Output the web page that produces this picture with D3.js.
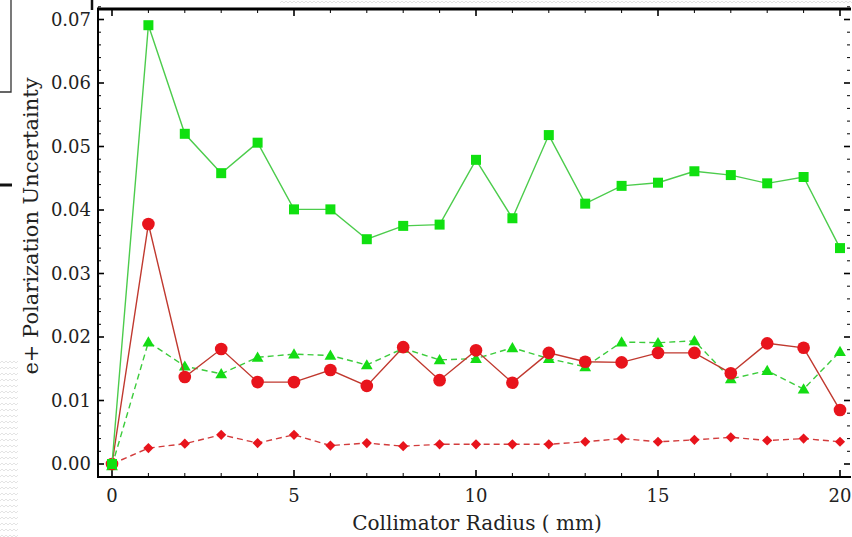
<!DOCTYPE html>
<html>
<head>
<meta charset="utf-8">
<script src="https://cdn.jsdelivr.net/npm/d3@7"></script>
<style>
  body { margin: 0; background: #fff; }
  svg { display: block; }
  text { font-family: "DejaVu Serif", "Liberation Serif", serif; fill: #222; }
</style>
</head>
<body>
<script>
// collimator radius (mm)
const radius = d3.range(0, 21);
// series
const greenSquares = [0.000, 0.0691, 0.0520, 0.0458, 0.0506, 0.0401, 0.0401, 0.0354, 0.0375, 0.0377,
  0.0479, 0.0387, 0.0518, 0.0410, 0.0438, 0.0443, 0.0461, 0.0455, 0.0442, 0.0452, 0.0340];
const redCircles = [0.000, 0.0378, 0.0137, 0.0181, 0.0129, 0.0129, 0.0148, 0.0123, 0.0184, 0.0132,
  0.0179, 0.0128, 0.0175, 0.0161, 0.0160, 0.0175, 0.0175, 0.0143, 0.0190, 0.0183, 0.0085];
const greenTriangles = [-0.0003, 0.0192, 0.0154, 0.0142, 0.0168, 0.0173, 0.0171, 0.0156, 0.0182, 0.0164,
  0.0166, 0.0183, 0.0166, 0.0153, 0.0192, 0.0191, 0.0194, 0.0134, 0.0147, 0.0118, 0.0177];
const redDiamonds = [0.000, 0.0025, 0.0032, 0.0046, 0.0033, 0.0046, 0.0029, 0.0033, 0.0028, 0.0031,
  0.0031, 0.0031, 0.0031, 0.0035, 0.0040, 0.0035, 0.0038, 0.0042, 0.0037, 0.0040, 0.0035];
const yTicks = [0, 0.01, 0.02, 0.03, 0.04, 0.05, 0.06, 0.07];
const xTicks = [0, 5, 10, 15, 20];

const W = 852, H = 537;
const svg = d3.select('body').append('svg')
  .attr('width', W)
  .attr('height', H);

// faint background texture at the left edge / top strip (scan of a slide)
const defs = svg.append('defs');
const pat = defs.append('pattern')
  .attr('id', 'wave').attr('width', 8).attr('height', 6)
  .attr('patternUnits', 'userSpaceOnUse');
pat.append('path')
  .attr('d', 'M0,3 L2,1 L4,3 L6,1 L8,3')
  .attr('fill', 'none').attr('stroke', '#e4e4e4').attr('stroke-width', 1);
svg.append('rect').attr('x', 0).attr('y', 360).attr('width', 18).attr('height', 177).attr('fill', 'url(#wave)');
svg.append('rect').attr('x', 280).attr('y', 0).attr('width', 572).attr('height', 7).attr('fill', 'url(#wave)');

// left-over slide bits
svg.append('path').attr('d', 'M11,0 V92 H0').attr('fill', 'none').attr('stroke', '#333').attr('stroke-width', 1.3);
svg.append('line').attr('x1', 0).attr('x2', 12).attr('y1', 185).attr('y2', 185).attr('stroke', '#111').attr('stroke-width', 3);
svg.append('line').attr('x1', 92).attr('x2', 92).attr('y1', 0).attr('y2', 10).attr('stroke', '#111').attr('stroke-width', 2.5);

const x = d3.scaleLinear().domain([0, 20]).range([112, 840]);
const y = d3.scaleLinear().domain([0, 0.07]).range([464, 19.5]);

const fL = 98, fR = 851, fT = 9, fB = 477;

// frame
svg.append('line').attr('x1', fL).attr('x2', fR).attr('y1', fT).attr('y2', fT)
  .attr('stroke', '#000').attr('stroke-width', 3);
svg.append('line').attr('x1', fL).attr('x2', fR).attr('y1', fB).attr('y2', fB)
  .attr('stroke', '#000').attr('stroke-width', 2);
svg.append('line').attr('x1', fL).attr('x2', fL).attr('y1', fT - 1.5).attr('y2', fB + 1)
  .attr('stroke', '#000').attr('stroke-width', 2);

// y ticks, left and right (inward)
const yMinor = d3.range(0, 0.0721, 0.002);
const tk = svg.append('g').attr('stroke', '#000');
yMinor.forEach(v => {
  const major = yTicks.some(t => Math.abs(t - v) < 1e-6);
  const len = major ? 6 : 3;
  tk.append('line').attr('x1', fL).attr('x2', fL + len).attr('y1', y(v)).attr('y2', y(v))
    .attr('stroke-width', major ? 1.6 : 1);
  tk.append('line').attr('x1', fR - 1).attr('x2', fR - 1 - len).attr('y1', y(v)).attr('y2', y(v))
    .attr('stroke-width', major ? 1.6 : 1);
});
// x ticks, bottom and top (inward)
radius.forEach(v => {
  const major = xTicks.includes(v);
  const len = major ? 7 : 4;
  tk.append('line').attr('x1', x(v)).attr('x2', x(v)).attr('y1', fB).attr('y2', fB - len)
    .attr('stroke-width', major ? 1.6 : 1);
  tk.append('line').attr('x1', x(v)).attr('x2', x(v)).attr('y1', fT).attr('y2', fT + len)
    .attr('stroke-width', major ? 1.6 : 1);
});

// tick labels
svg.append('g').selectAll('text')
  .data(yTicks).enter().append('text')
  .attr('x', 91).attr('y', d => y(d))
  .attr('dy', '0.35em')
  .attr('text-anchor', 'end')
  .style('font-size', '18px')
  .text(d => d3.format('.2f')(d));

svg.append('g').selectAll('text')
  .data(xTicks).enter().append('text')
  .attr('x', d => x(d)).attr('y', 502)
  .attr('text-anchor', 'middle')
  .style('font-size', '18px')
  .text(d => d);

// axis titles
svg.append('text')
  .attr('x', 477).attr('y', 530)
  .attr('text-anchor', 'middle')
  .style('font-size', '20px')
  .text('Collimator Radius ( mm)');
svg.append('text')
  .attr('transform', 'translate(38,226) rotate(-90)')
  .attr('text-anchor', 'middle')
  .style('font-size', '21px')
  .text('e+ Polarization Uncertainty');

// series
const series = [
  { vals: redDiamonds, line: '#d23c3c', fill: '#e8141c', dash: '6,4', shape: 'diamond' },
  { vals: greenTriangles, line: '#3ccc3c', fill: '#14dc14', dash: '6,4', shape: 'triangle' },
  { vals: redCircles, line: '#c0392f', fill: '#e8141c', dash: null, shape: 'circle' },
  { vals: greenSquares, line: '#4ccc4c', fill: '#10e010', dash: null, shape: 'square' }
];

const line = d3.line()
  .x((d, i) => x(radius[i]))
  .y(d => y(d));

const symbols = {
  diamond: d3.symbol().type(d3.symbolSquare).size(52),
  triangle: d3.symbol().type(d3.symbolTriangle).size(60),
  circle: d3.symbol().type(d3.symbolCircle).size(125),
  square: d3.symbol().type(d3.symbolSquare).size(100)
};

series.forEach(s => {
  svg.append('path')
    .datum(s.vals)
    .attr('d', line)
    .attr('fill', 'none')
    .attr('stroke', s.line)
    .attr('stroke-width', 1.4)
    .attr('stroke-dasharray', s.dash);
  svg.append('g').selectAll('path')
    .data(s.vals).enter().append('path')
    .attr('transform', (d, i) => `translate(${x(radius[i])},${y(d) + (s.shape === 'triangle' ? 1 : 0)})` +
      (s.shape === 'diamond' ? ' rotate(45)' : ''))
    .attr('d', symbols[s.shape]())
    .attr('fill', s.fill);
});
</script>
</body>
</html>
